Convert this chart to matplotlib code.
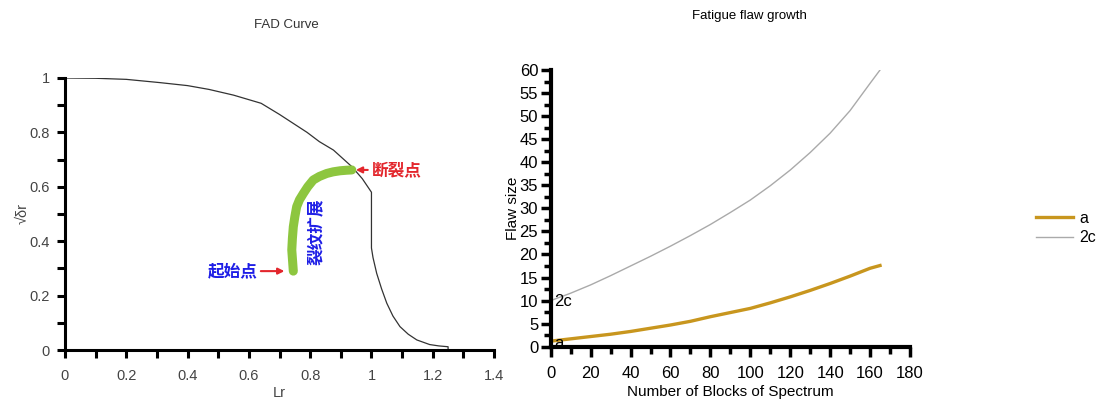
import matplotlib
matplotlib.use("Agg")
import matplotlib.pyplot as plt
from matplotlib.ticker import MultipleLocator, FormatStrFormatter

plt.rcParams['font.family'] = ['Liberation Sans', 'DejaVu Sans']

# FAD curve
fad_lr = [0, 0.1, 0.2, 0.31, 0.4, 0.47, 0.55, 0.64, 0.7, 0.745, 0.79, 0.83, 0.876,
          0.936, 0.97, 1.0, 1.0, 1.005, 1.017, 1.033, 1.05, 1.07, 1.093, 1.12, 1.148,
          1.19, 1.22, 1.25, 1.25]
fad_kr = [1.0, 0.999, 0.995, 0.983, 0.972, 0.958, 0.937, 0.907, 0.866, 0.833, 0.8,
          0.766, 0.735, 0.674, 0.63, 0.58, 0.375, 0.34, 0.282, 0.225, 0.172, 0.125,
          0.086, 0.058, 0.037, 0.02, 0.015, 0.012, 0.0]

# crack growth path
path_lr = [0.745, 0.74, 0.742, 0.745, 0.75, 0.756, 0.765, 0.778, 0.792, 0.81, 0.83,
           0.854, 0.875, 0.898, 0.92, 0.936]
path_kr = [0.29, 0.368, 0.41, 0.453, 0.49, 0.527, 0.552, 0.576, 0.6, 0.625, 0.638,
           0.649, 0.655, 0.659, 0.661, 0.662]

# fatigue flaw growth
blocks = [0, 10, 20, 30, 40, 50, 60, 70, 80, 90, 100, 110, 120, 130, 140, 150, 160, 165]
size_a = [1.2, 1.7, 2.2, 2.7, 3.3, 4.0, 4.7, 5.5, 6.5, 7.4, 8.3, 9.5, 10.8, 12.2,
          13.7, 15.3, 17.0, 17.6]
size_2c = [10, 11.6, 13.4, 15.4, 17.5, 19.6, 21.8, 24.1, 26.5, 29.1, 31.8, 34.9,
           38.3, 42.1, 46.3, 51.2, 57.1, 60]

red = "#E3262C"
blue = "#1E1EE6"
green = "#8DC63F"
gold = "#C8961E"

fig = plt.figure(figsize=(11.07, 4.0), dpi=100)

# ---- left: FAD curve
ax1 = fig.add_axes([0.0587, 0.125, 0.3876, 0.68])
ax1.plot(fad_lr, fad_kr, color="#333333", lw=0.9)
ax1.plot(path_lr, path_kr, color=green, lw=6.5, solid_capstyle="round")
ax1.set_xlim(0, 1.4)
ax1.set_ylim(0, 1)
for s in ["top", "right"]:
    ax1.spines[s].set_visible(False)
for s in ["left", "bottom"]:
    ax1.spines[s].set_linewidth(2.2)
ax1.xaxis.set_major_locator(MultipleLocator(0.2))
ax1.xaxis.set_minor_locator(MultipleLocator(0.1))
ax1.yaxis.set_major_locator(MultipleLocator(0.2))
ax1.yaxis.set_minor_locator(MultipleLocator(0.1))
ax1.xaxis.set_major_formatter(FormatStrFormatter("%g"))
ax1.yaxis.set_major_formatter(FormatStrFormatter("%g"))
ax1.tick_params(which="both", direction="out", length=6, width=2.2,
                labelsize=10.5, labelcolor="#444444")
ax1.tick_params(axis="x", which="major", pad=8)
ax1.tick_params(axis="y", which="major", pad=5)
ax1.set_xlabel("Lr", fontsize=10.5, color="#444444", labelpad=2)
ax1.set_ylabel("√δr", fontsize=10.5, color="#444444", labelpad=0)
fig.text(0.259, 0.937, "FAD Curve", ha="center", va="center", fontsize=9.5, color="#333333")

cjk = ['Noto Sans CJK SC', 'DejaVu Sans']
ax1.annotate("", xy=(0.94, 0.662), xytext=(0.997, 0.662),
             arrowprops=dict(arrowstyle="-|>", color=red, lw=1.5, mutation_scale=9))
ax1.text(1.0, 0.662, "断裂点", family=cjk, color=red, fontsize=12, fontweight="bold",
         ha="left", va="center")
ax1.annotate("", xy=(0.725, 0.29), xytext=(0.63, 0.29),
             arrowprops=dict(arrowstyle="-|>", color=red, lw=1.5, mutation_scale=9))
ax1.text(0.63, 0.29, "起始点", family=cjk, color=blue, fontsize=12, fontweight="bold",
         ha="right", va="center")
ax1.text(0.818, 0.435, "裂纹扩展", family=cjk, color=blue, fontsize=12, fontweight="bold",
         ha="center", va="center", rotation=90)

# ---- right: fatigue flaw growth
ax2 = fig.add_axes([0.4975, 0.1333, 0.3245, 0.6917])
ax2.plot(blocks, size_a, color=gold, lw=2.4, label="a")
ax2.plot(blocks, size_2c, color="#AAAAAA", lw=1.0, label="2c")
ax2.set_xlim(0, 180)
ax2.set_ylim(0, 60)
for s in ["top", "right"]:
    ax2.spines[s].set_visible(False)
for s in ["left", "bottom"]:
    ax2.spines[s].set_linewidth(3)
ax2.xaxis.set_major_locator(MultipleLocator(20))
ax2.xaxis.set_minor_locator(MultipleLocator(10))
ax2.yaxis.set_major_locator(MultipleLocator(5))
ax2.yaxis.set_minor_locator(MultipleLocator(2.5))
ax2.tick_params(which="major", direction="out", length=7, width=2.5, labelsize=12, pad=2)
ax2.tick_params(which="minor", direction="out", length=5, width=2.5)
ax2.tick_params(axis="x", which="major", pad=7)
ax2.set_xlabel("Number of Blocks of Spectrum", fontsize=11, labelpad=3)
ax2.set_ylabel("Flaw size", fontsize=11, labelpad=0)
ax2.text(1.5, 9.8, "2c", fontsize=12, ha="left", va="center")
ax2.text(2.0, 0.6, "a", fontsize=12, ha="left", va="center")
fig.text(0.677, 0.96, "Fatigue flaw growth", ha="center", va="center", fontsize=9.5)

fig.legend(loc="center left", bbox_to_anchor=(0.923, 0.43), frameon=False,
           fontsize=11.5, handlelength=2.3, handletextpad=0.4, labelspacing=0.3)

fig.savefig("out.png", dpi=100)
